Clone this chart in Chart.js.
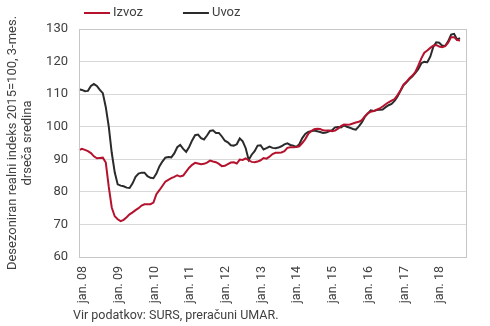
<!DOCTYPE html>
<html>
<head>
<meta charset="utf-8">
<script src="https://cdn.jsdelivr.net/npm/chart.js@4/dist/chart.umd.min.js"></script>
<style>
  html, body { margin: 0; padding: 0; background: #fff; }
  #wrap { width: 490px; height: 326px; position: relative; }
</style>
</head>
<body>
<div id="wrap"><canvas id="tradeChart"></canvas></div>
<script>
const monthNames = ['jan.', 'feb.', 'mar.', 'apr.', 'maj', 'jun.', 'jul.', 'avg.', 'sep.', 'okt.', 'nov.', 'dec.'];
const years = ['08', '09', '10', '11', '12', '13', '14', '15', '16', '17', '18'];
// months jan. 08 .. nov. 18 on the axis, values run to sep. 18
const labels = [];
years.forEach(y => monthNames.forEach(m => labels.push(`${m} ${y}`)));
labels.length = 131;

const izvoz = [
    92.8, 93.2, 92.9, 92.5, 91.9, 90.9, 90.3, 90.4, 90.5, 89.0, 81.5, 75.2,
    72.5, 71.6, 71.0, 71.4, 72.2, 73.1, 73.7, 74.4, 75.0, 75.8, 76.2, 76.2,
    76.2, 76.7, 79.3, 80.5, 81.8, 83.1, 83.7, 84.2, 84.6, 85.1, 84.7, 85.0,
    86.2, 87.4, 88.3, 88.9, 88.7, 88.5, 88.6, 89.0, 89.6, 89.3, 89.1, 88.6,
    87.9, 88.0, 88.5, 89.0, 89.1, 88.7, 89.9, 89.8, 90.3, 89.7, 89.2, 89.1,
    89.3, 89.7, 90.4, 90.2, 90.8, 91.6, 92.0, 92.0, 92.1, 92.5, 93.5, 93.7,
    93.7, 93.8, 94.0, 95.0, 96.2, 97.8, 98.7, 99.2, 99.4, 99.3, 98.9, 98.8,
    98.8, 98.6, 98.8, 99.4, 100.2, 100.7, 100.6, 100.7, 101.0, 101.3, 101.5, 102.0,
    103.2, 104.1, 104.6, 104.8, 105.2, 105.6, 106.2, 106.9, 107.5, 108.0, 108.5, 109.7,
    111.2, 112.9, 113.8, 114.9, 115.7, 116.8, 118.8, 121.0, 122.7, 123.4, 124.2, 124.9,
    125.1, 124.6, 124.4, 124.7, 125.8, 127.5, 127.5, 126.6, 126.5
];
const uvoz = [
    111.5, 111.3, 110.9, 111.0, 112.5, 113.1, 112.5, 111.3, 110.3, 106.0, 100.0, 92.0,
    86.0, 82.3, 81.9, 81.7, 81.3, 81.2, 82.6, 84.6, 85.6, 85.9, 85.9, 84.8,
    84.3, 84.2, 85.6, 87.8, 89.3, 90.5, 90.7, 90.6, 91.8, 93.7, 94.4, 93.2,
    92.3, 93.8, 95.8, 97.4, 97.6, 96.5, 96.1, 97.3, 98.7, 98.9, 98.1, 98.1,
    97.0, 95.7, 95.2, 94.3, 94.2, 94.6, 96.4, 95.5, 93.4, 89.8, 91.4, 92.5,
    94.2, 94.3, 93.0, 93.4, 93.9, 93.5, 93.4, 93.6, 94.0, 94.6, 94.9, 94.4,
    94.2, 93.8, 94.6, 96.5, 97.8, 98.4, 98.6, 98.8, 98.6, 98.4, 98.1, 98.2,
    98.6, 98.9, 99.8, 99.9, 99.8, 100.4, 100.0, 99.7, 99.3, 99.1, 100.1, 101.3,
    103.0, 104.0, 105.0, 104.8, 105.1, 105.2, 105.3, 106.0, 106.6, 107.0, 107.9, 109.3,
    111.0, 112.7, 113.6, 114.6, 115.5, 116.5, 117.7, 119.5, 119.9, 119.8, 121.5, 124.5,
    125.9, 125.8, 124.9, 124.8, 126.2, 128.3, 128.5, 126.8, 127.2
];
const yTicks = [60, 70, 80, 90, 100, 110, 120, 130];

const textColor = '#404040';
const fontFamily = 'Roboto, "Liberation Sans", sans-serif';

// legend drawn as short line + label above the plot
const lineLegend = {
    id: 'lineLegend',
    afterDraw(chart) {
        const ctx = chart.ctx;
        let x = 84;
        const y = 13;
        ctx.save();
        ctx.font = `13px ${fontFamily}`;
        ctx.textBaseline = 'middle';
        chart.data.datasets.forEach(ds => {
            ctx.strokeStyle = ds.borderColor;
            ctx.lineWidth = 2;
            ctx.beginPath();
            ctx.moveTo(x, y);
            ctx.lineTo(x + 26, y);
            ctx.stroke();
            ctx.fillStyle = textColor;
            ctx.fillText(ds.label, x + 29, y);
            x += 29 + ctx.measureText(ds.label).width + 40;
        });
        ctx.restore();
    }
};

// grey frame round the plot area and the source note
const frameAndSource = {
    id: 'frameAndSource',
    afterDraw(chart) {
        const { ctx, chartArea: a } = chart;
        ctx.save();
        ctx.strokeStyle = '#c6c6c6';
        ctx.lineWidth = 1;
        ctx.strokeRect(Math.round(a.left) + 0.5, Math.round(a.top) + 0.5,
            Math.round(a.right - a.left), Math.round(a.bottom - a.top));
        ctx.font = `12.5px ${fontFamily}`;
        ctx.fillStyle = textColor;
        ctx.textBaseline = 'middle';
        ctx.fillText('Vir podatkov: SURS, preračuni UMAR.', 73, 316);
        ctx.restore();
    }
};

new Chart(document.getElementById('tradeChart'), {
    type: 'line',
    data: {
        labels: labels,
        datasets: [
            { label: 'Izvoz', data: izvoz, borderColor: '#b5122e', borderWidth: 2, pointRadius: 0, tension: 0 },
            { label: 'Uvoz', data: uvoz, borderColor: '#2b2b2b', borderWidth: 2, pointRadius: 0, tension: 0 }
        ]
    },
    options: {
        responsive: true,
        maintainAspectRatio: false,
        animation: false,
        layout: { padding: { top: 29, right: 8, left: 0, bottom: 0 } },
        plugins: {
            legend: { display: false },
            tooltip: { enabled: false }
        },
        scales: {
            x: {
                grid: { display: false, drawTicks: false },
                border: { display: false },
                afterFit: scale => { scale.height = 69; },
                ticks: {
                    autoSkip: false,
                    minRotation: 90,
                    maxRotation: 90,
                    padding: 9,
                    labelOffset: 4,
                    color: textColor,
                    font: { family: fontFamily, size: 12.5 },
                    callback: (v, i) => (i % 12 === 0 ? labels[i] : '')
                }
            },
            y: {
                min: 60,
                max: 130,
                afterFit: scale => { scale.width = 79; },
                afterBuildTicks: scale => { scale.ticks = yTicks.map(v => ({ value: v })); },
                grid: { color: '#d9d9d9', lineWidth: 1, drawTicks: false },
                border: { display: false },
                ticks: {
                    padding: 11,
                    color: textColor,
                    font: { family: fontFamily, size: 13 }
                },
                title: {
                    display: true,
                    text: ['Desezoniran realni indeks 2015=100, 3-mes.', 'drseča sredina'],
                    color: textColor,
                    font: { family: fontFamily, size: 13, lineHeight: 1.15 },
                    padding: { top: 5, bottom: 0 }
                }
            }
        }
    },
    plugins: [lineLegend, frameAndSource]
});
</script>
</body>
</html>
